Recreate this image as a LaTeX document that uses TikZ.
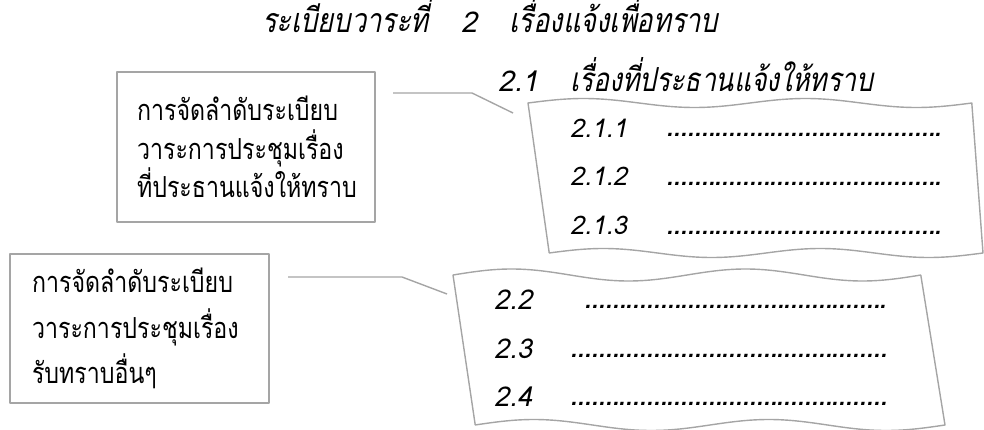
\documentclass[tikz,border=0pt]{standalone}
\usepackage{fontspec}
\newfontfamily\thai[Script=Thai,FakeStretch=0.8]{Loma}
\newfontfamily\thaiit[Script=Thai,FakeSlant=0.2,FakeStretch=0.8]{Loma}
\newfontfamily\numit[Script=Thai,FakeSlant=0.2]{Loma}
\definecolor{edge}{HTML}{A5A5A5}
\newlength\mw
\newcommand\calcfs[4]{\settowidth\mw{#2\fontsize{10}{12}\selectfont #4}\pgfmathsetmacro#1{10*#3/\mw}}
\newcommand\onedot{\hbox to 0pt{\hss.\hss}}
\newcommand\dotrow[2]{{\fontsize{\dotfs}{25}\selectfont\hbox to #1{\onedot\foreach \k in {2,...,#2}{\hfil\onedot}}}}
\tikzset{
  edgeline/.style={draw=edge, line width=1.4pt, line join=round},
  infobox/.style={edgeline, rectangle, align=left, anchor=center, inner ysep=0pt},
  itemnum/.style={anchor=base west, inner sep=0pt},
  heading/.style={inner sep=0pt, anchor=base west},
}
\begin{document}
\calcfs{\titlefs}{\thaiit}{375}{ระเบียบวาระที่เรื่องแจ้งเพื่อทราบ}%
\calcfs{\subfs}{\thaiit}{303}{เรื่องที่ประธานแจ้งให้ทราบ}%
\calcfs{\boxfs}{\thai}{201}{การจัดลำดับระเบียบ}%
\calcfs{\numfs}{\numit}{57}{2.1.1}%
\calcfs{\numfsb}{\numit}{38}{2.2}%
\pgfmathsetmacro\titlenumfs{\numfs*1.12}%
\pgfmathsetmacro\dotfs{\numfs*1.25}%
\begin{tikzpicture}[x=1pt,y=-1pt]
\useasboundingbox (0,0) rectangle (984,430);
% title
\node[heading, font=\thaiit\fontsize{\titlefs}{30}\selectfont] (title) at (262,33)
  {\hbox to 456pt{ระเบียบวาระที่\hfil{\numit\fontsize{\titlenumfs}{30}\selectfont 2}\hfil เรื่องแจ้งเพื่อทราบ}};
\node[heading, font=\thaiit\fontsize{\subfs}{30}\selectfont] (sub) at (498,92)
  {\hbox to 375pt{{\numit\fontsize{\titlenumfs}{30}\selectfont 2.1}\hfil เรื่องที่ประธานแจ้งให้ทราบ}};
% boxes
\node[infobox, minimum width=258pt, minimum height=150pt, text width=218pt, inner xsep=20pt,
  font=\thai\fontsize{\boxfs}{38.5}\selectfont] (b1) at (246,147)
  {การจัดลำดับระเบียบ\\วาระการประชุมเรื่อง\\ที่ประธานแจ้งให้ทราบ};
\node[infobox, minimum width=259pt, minimum height=149pt, text width=215pt, inner xsep=22pt,
  font=\thai\fontsize{\boxfs}{45.5}\selectfont] (b2) at (139.5,328.5)
  {การจัดลำดับระเบียบ\\วาระการประชุมเรื่อง\\รับทราบอื่นๆ};
% wavy shape 1
\draw[edgeline] plot[domain=0:1,samples=90,smooth] ({528+444*\x},{103-4.5*sin(720*\x)})
  -- plot[domain=1:0,samples=90,smooth] ({549+434*\x},{253-4.5*sin(720*\x)}) -- cycle;
% wavy shape 2
\draw[edgeline] plot[domain=0:1,samples=90,smooth] ({453+468*\x},{275-6*sin(720*\x)})
  -- plot[domain=1:0,samples=90,smooth] ({475+470*\x},{425-5.5*sin(720*\x)}) -- cycle;
% connectors
\coordinate (c1a) at (393,93);
\coordinate (c1b) at (472,93);
\coordinate (c1c) at (513,113);
\coordinate (c2a) at (288,277);
\coordinate (c2b) at (402,277);
\coordinate (c2c) at (447,294);
\draw[edgeline] (c1a) -- (c1b) -- (c1c);
\draw[edgeline] (c2a) -- (c2b) -- (c2c);
% items shape 1
\tikzset{num1/.style={itemnum, font=\numit\fontsize{\numfs}{25}\selectfont},
         num2/.style={itemnum, font=\numit\fontsize{\numfsb}{25}\selectfont}}
\node[num1] (i11) at (570,138) {2.1.1};
\node[num1] (d11) at (670,137) {\dotrow{268pt}{40}};
\node[num1] (i12) at (570,186) {2.1.2};
\node[num1] (d12) at (670,186) {\dotrow{268pt}{40}};
\node[num1] (i13) at (570,235) {2.1.3};
\node[num1] (d13) at (670,235) {\dotrow{268pt}{40}};
% items shape 2
\node[num2] (i22) at (494,309) {2.2};
\node[num2] (d22) at (588,308) {\dotrow{295pt}{44}};
\node[num2] (i23) at (494,358) {2.3};
\node[num2] (d23) at (574,357) {\dotrow{309pt}{46}};
\node[num2] (i24) at (494,406) {2.4};
\node[num2] (d24) at (574,405) {\dotrow{309pt}{46}};
\end{tikzpicture}
\end{document}
